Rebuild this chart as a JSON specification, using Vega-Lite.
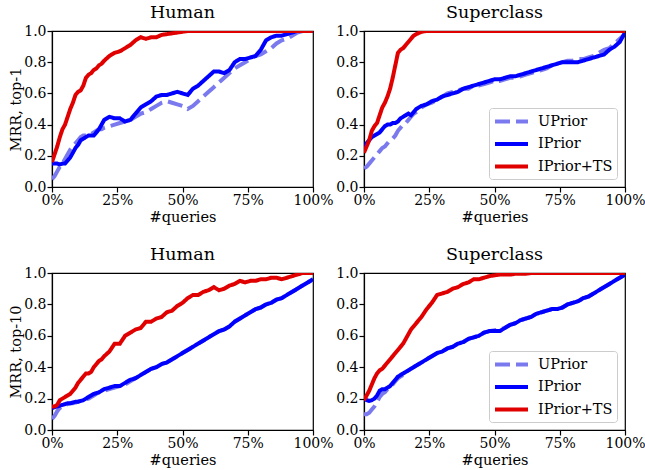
{
  "$schema": "https://vega.github.io/schema/vega-lite/v6.json",
  "padding": {"left": 8, "top": 2, "right": 1, "bottom": 2},
  "background": "white",
  "datasets": {
    "h1": [
      {"x":0,"UPrior":0.05,"IPrior":0.15,"IPrior+TS":0.16},
      {"x":1,"UPrior":0.07,"IPrior":0.15,"IPrior+TS":0.21},
      {"x":2,"UPrior":0.10,"IPrior":0.15,"IPrior+TS":0.26},
      {"x":3,"UPrior":0.13,"IPrior":0.145,"IPrior+TS":0.32},
      {"x":4,"UPrior":0.15,"IPrior":0.15,"IPrior+TS":0.37},
      {"x":5,"UPrior":0.18,"IPrior":0.15,"IPrior+TS":0.40},
      {"x":6,"UPrior":0.21,"IPrior":0.17,"IPrior+TS":0.45},
      {"x":7,"UPrior":0.24,"IPrior":0.19,"IPrior+TS":0.50},
      {"x":8,"UPrior":0.26,"IPrior":0.22,"IPrior+TS":0.54},
      {"x":9,"UPrior":0.28,"IPrior":0.25,"IPrior+TS":0.59},
      {"x":10,"UPrior":0.30,"IPrior":0.27,"IPrior+TS":0.61},
      {"x":11,"UPrior":0.32,"IPrior":0.30,"IPrior+TS":0.62},
      {"x":12,"UPrior":0.33,"IPrior":0.31,"IPrior+TS":0.65},
      {"x":13,"UPrior":0.33,"IPrior":0.32,"IPrior+TS":0.70},
      {"x":14,"UPrior":0.34,"IPrior":0.33,"IPrior+TS":0.72},
      {"x":15,"UPrior":0.34,"IPrior":0.33,"IPrior+TS":0.73},
      {"x":16,"UPrior":0.35,"IPrior":0.33,"IPrior+TS":0.75},
      {"x":17,"UPrior":0.36,"IPrior":0.35,"IPrior+TS":0.76},
      {"x":18,"UPrior":0.37,"IPrior":0.37,"IPrior+TS":0.78},
      {"x":19,"UPrior":0.37,"IPrior":0.40,"IPrior+TS":0.79},
      {"x":20,"UPrior":0.38,"IPrior":0.43,"IPrior+TS":0.81},
      {"x":22,"UPrior":0.39,"IPrior":0.45,"IPrior+TS":0.84},
      {"x":24,"UPrior":0.40,"IPrior":0.44,"IPrior+TS":0.86},
      {"x":26,"UPrior":0.41,"IPrior":0.44,"IPrior+TS":0.87},
      {"x":28,"UPrior":0.42,"IPrior":0.42,"IPrior+TS":0.89},
      {"x":30,"UPrior":0.43,"IPrior":0.43,"IPrior+TS":0.91},
      {"x":32,"UPrior":0.45,"IPrior":0.47,"IPrior+TS":0.94},
      {"x":34,"UPrior":0.47,"IPrior":0.51,"IPrior+TS":0.96},
      {"x":36,"UPrior":0.48,"IPrior":0.53,"IPrior+TS":0.95},
      {"x":38,"UPrior":0.50,"IPrior":0.55,"IPrior+TS":0.96},
      {"x":40,"UPrior":0.52,"IPrior":0.58,"IPrior+TS":0.96},
      {"x":42,"UPrior":0.54,"IPrior":0.59,"IPrior+TS":0.975},
      {"x":44,"UPrior":0.55,"IPrior":0.59,"IPrior+TS":0.98},
      {"x":46,"UPrior":0.54,"IPrior":0.60,"IPrior+TS":0.985},
      {"x":48,"UPrior":0.53,"IPrior":0.61,"IPrior+TS":0.99},
      {"x":50,"UPrior":0.52,"IPrior":0.60,"IPrior+TS":0.995},
      {"x":52,"UPrior":0.50,"IPrior":0.59,"IPrior+TS":1.0},
      {"x":54,"UPrior":0.52,"IPrior":0.63,"IPrior+TS":1.0},
      {"x":56,"UPrior":0.55,"IPrior":0.65,"IPrior+TS":1.0},
      {"x":58,"UPrior":0.58,"IPrior":0.68,"IPrior+TS":1.0},
      {"x":60,"UPrior":0.61,"IPrior":0.71,"IPrior+TS":1.0},
      {"x":62,"UPrior":0.64,"IPrior":0.74,"IPrior+TS":1.0},
      {"x":64,"UPrior":0.67,"IPrior":0.74,"IPrior+TS":1.0},
      {"x":66,"UPrior":0.70,"IPrior":0.73,"IPrior+TS":1.0},
      {"x":68,"UPrior":0.73,"IPrior":0.75,"IPrior+TS":1.0},
      {"x":70,"UPrior":0.76,"IPrior":0.80,"IPrior+TS":1.0},
      {"x":72,"UPrior":0.78,"IPrior":0.82,"IPrior+TS":1.0},
      {"x":74,"UPrior":0.80,"IPrior":0.82,"IPrior+TS":1.0},
      {"x":76,"UPrior":0.82,"IPrior":0.83,"IPrior+TS":1.0},
      {"x":78,"UPrior":0.84,"IPrior":0.84,"IPrior+TS":1.0},
      {"x":80,"UPrior":0.85,"IPrior":0.88,"IPrior+TS":1.0},
      {"x":82,"UPrior":0.87,"IPrior":0.94,"IPrior+TS":1.0},
      {"x":84,"UPrior":0.89,"IPrior":0.96,"IPrior+TS":1.0},
      {"x":86,"UPrior":0.92,"IPrior":0.97,"IPrior+TS":1.0},
      {"x":88,"UPrior":0.94,"IPrior":0.97,"IPrior+TS":1.0},
      {"x":90,"UPrior":0.95,"IPrior":0.98,"IPrior+TS":1.0},
      {"x":92,"UPrior":0.97,"IPrior":0.99,"IPrior+TS":1.0},
      {"x":94,"UPrior":0.99,"IPrior":1.0,"IPrior+TS":1.0},
      {"x":96,"UPrior":1.0,"IPrior":1.0,"IPrior+TS":1.0},
      {"x":98,"UPrior":1.0,"IPrior":1.0,"IPrior+TS":1.0},
      {"x":100,"UPrior":1.0,"IPrior":1.0,"IPrior+TS":1.0}
    ],
    "s1": [
      {"x":0,"UPrior":0.12,"IPrior":0.24,"IPrior+TS":0.22},
      {"x":1,"UPrior":0.13,"IPrior":0.28,"IPrior+TS":0.26},
      {"x":2,"UPrior":0.15,"IPrior":0.30,"IPrior+TS":0.30},
      {"x":3,"UPrior":0.17,"IPrior":0.32,"IPrior+TS":0.36},
      {"x":4,"UPrior":0.19,"IPrior":0.33,"IPrior+TS":0.39},
      {"x":5,"UPrior":0.21,"IPrior":0.34,"IPrior+TS":0.41},
      {"x":6,"UPrior":0.23,"IPrior":0.35,"IPrior+TS":0.46},
      {"x":7,"UPrior":0.25,"IPrior":0.37,"IPrior+TS":0.51},
      {"x":8,"UPrior":0.26,"IPrior":0.39,"IPrior+TS":0.54},
      {"x":9,"UPrior":0.28,"IPrior":0.40,"IPrior+TS":0.58},
      {"x":10,"UPrior":0.30,"IPrior":0.40,"IPrior+TS":0.63},
      {"x":11,"UPrior":0.31,"IPrior":0.41,"IPrior+TS":0.70},
      {"x":12,"UPrior":0.33,"IPrior":0.41,"IPrior+TS":0.78},
      {"x":13,"UPrior":0.36,"IPrior":0.42,"IPrior+TS":0.86},
      {"x":14,"UPrior":0.38,"IPrior":0.44,"IPrior+TS":0.88},
      {"x":15,"UPrior":0.40,"IPrior":0.45,"IPrior+TS":0.89},
      {"x":16,"UPrior":0.41,"IPrior":0.46,"IPrior+TS":0.91},
      {"x":17,"UPrior":0.43,"IPrior":0.47,"IPrior+TS":0.93},
      {"x":18,"UPrior":0.45,"IPrior":0.46,"IPrior+TS":0.95},
      {"x":19,"UPrior":0.47,"IPrior":0.48,"IPrior+TS":0.97},
      {"x":20,"UPrior":0.48,"IPrior":0.50,"IPrior+TS":0.98},
      {"x":22,"UPrior":0.51,"IPrior":0.52,"IPrior+TS":0.995},
      {"x":24,"UPrior":0.53,"IPrior":0.53,"IPrior+TS":1.0},
      {"x":26,"UPrior":0.54,"IPrior":0.55,"IPrior+TS":1.0},
      {"x":28,"UPrior":0.56,"IPrior":0.56,"IPrior+TS":1.0},
      {"x":30,"UPrior":0.58,"IPrior":0.58,"IPrior+TS":1.0},
      {"x":32,"UPrior":0.60,"IPrior":0.59,"IPrior+TS":1.0},
      {"x":34,"UPrior":0.61,"IPrior":0.60,"IPrior+TS":1.0},
      {"x":36,"UPrior":0.62,"IPrior":0.61,"IPrior+TS":1.0},
      {"x":38,"UPrior":0.63,"IPrior":0.63,"IPrior+TS":1.0},
      {"x":40,"UPrior":0.63,"IPrior":0.64,"IPrior+TS":1.0},
      {"x":42,"UPrior":0.65,"IPrior":0.65,"IPrior+TS":1.0},
      {"x":44,"UPrior":0.65,"IPrior":0.66,"IPrior+TS":1.0},
      {"x":46,"UPrior":0.66,"IPrior":0.67,"IPrior+TS":1.0},
      {"x":48,"UPrior":0.67,"IPrior":0.68,"IPrior+TS":1.0},
      {"x":50,"UPrior":0.68,"IPrior":0.69,"IPrior+TS":1.0},
      {"x":52,"UPrior":0.68,"IPrior":0.69,"IPrior+TS":1.0},
      {"x":54,"UPrior":0.69,"IPrior":0.70,"IPrior+TS":1.0},
      {"x":56,"UPrior":0.70,"IPrior":0.71,"IPrior+TS":1.0},
      {"x":58,"UPrior":0.70,"IPrior":0.71,"IPrior+TS":1.0},
      {"x":60,"UPrior":0.71,"IPrior":0.72,"IPrior+TS":1.0},
      {"x":62,"UPrior":0.72,"IPrior":0.73,"IPrior+TS":1.0},
      {"x":64,"UPrior":0.73,"IPrior":0.74,"IPrior+TS":1.0},
      {"x":66,"UPrior":0.74,"IPrior":0.75,"IPrior+TS":1.0},
      {"x":68,"UPrior":0.75,"IPrior":0.76,"IPrior+TS":1.0},
      {"x":70,"UPrior":0.76,"IPrior":0.77,"IPrior+TS":1.0},
      {"x":72,"UPrior":0.78,"IPrior":0.78,"IPrior+TS":1.0},
      {"x":74,"UPrior":0.79,"IPrior":0.79,"IPrior+TS":1.0},
      {"x":76,"UPrior":0.80,"IPrior":0.80,"IPrior+TS":1.0},
      {"x":78,"UPrior":0.81,"IPrior":0.80,"IPrior+TS":1.0},
      {"x":80,"UPrior":0.81,"IPrior":0.80,"IPrior+TS":1.0},
      {"x":82,"UPrior":0.82,"IPrior":0.80,"IPrior+TS":1.0},
      {"x":84,"UPrior":0.82,"IPrior":0.81,"IPrior+TS":1.0},
      {"x":86,"UPrior":0.83,"IPrior":0.82,"IPrior+TS":1.0},
      {"x":88,"UPrior":0.84,"IPrior":0.83,"IPrior+TS":1.0},
      {"x":90,"UPrior":0.86,"IPrior":0.84,"IPrior+TS":1.0},
      {"x":92,"UPrior":0.88,"IPrior":0.85,"IPrior+TS":1.0},
      {"x":94,"UPrior":0.89,"IPrior":0.88,"IPrior+TS":1.0},
      {"x":96,"UPrior":0.92,"IPrior":0.90,"IPrior+TS":1.0},
      {"x":98,"UPrior":0.95,"IPrior":0.93,"IPrior+TS":1.0},
      {"x":100,"UPrior":0.98,"IPrior":0.99,"IPrior+TS":1.0}
    ],
    "h10": [
      {"x":0,"UPrior":0.07,"IPrior":0.14,"IPrior+TS":0.15},
      {"x":1,"UPrior":0.09,"IPrior":0.145,"IPrior+TS":0.15},
      {"x":2,"UPrior":0.12,"IPrior":0.15,"IPrior+TS":0.16},
      {"x":3,"UPrior":0.14,"IPrior":0.155,"IPrior+TS":0.19},
      {"x":4,"UPrior":0.15,"IPrior":0.16,"IPrior+TS":0.20},
      {"x":5,"UPrior":0.16,"IPrior":0.165,"IPrior+TS":0.21},
      {"x":6,"UPrior":0.165,"IPrior":0.17,"IPrior+TS":0.22},
      {"x":7,"UPrior":0.17,"IPrior":0.17,"IPrior+TS":0.23},
      {"x":8,"UPrior":0.17,"IPrior":0.175,"IPrior+TS":0.25},
      {"x":9,"UPrior":0.175,"IPrior":0.18,"IPrior+TS":0.27},
      {"x":10,"UPrior":0.18,"IPrior":0.18,"IPrior+TS":0.30},
      {"x":11,"UPrior":0.185,"IPrior":0.185,"IPrior+TS":0.32},
      {"x":12,"UPrior":0.19,"IPrior":0.19,"IPrior+TS":0.34},
      {"x":13,"UPrior":0.195,"IPrior":0.20,"IPrior+TS":0.36},
      {"x":14,"UPrior":0.20,"IPrior":0.21,"IPrior+TS":0.36},
      {"x":15,"UPrior":0.21,"IPrior":0.22,"IPrior+TS":0.37},
      {"x":16,"UPrior":0.22,"IPrior":0.23,"IPrior+TS":0.40},
      {"x":17,"UPrior":0.23,"IPrior":0.235,"IPrior+TS":0.42},
      {"x":18,"UPrior":0.24,"IPrior":0.24,"IPrior+TS":0.44},
      {"x":19,"UPrior":0.245,"IPrior":0.25,"IPrior+TS":0.45},
      {"x":20,"UPrior":0.25,"IPrior":0.26,"IPrior+TS":0.47},
      {"x":22,"UPrior":0.26,"IPrior":0.27,"IPrior+TS":0.50},
      {"x":24,"UPrior":0.27,"IPrior":0.28,"IPrior+TS":0.55},
      {"x":26,"UPrior":0.28,"IPrior":0.28,"IPrior+TS":0.55},
      {"x":28,"UPrior":0.29,"IPrior":0.30,"IPrior+TS":0.60},
      {"x":30,"UPrior":0.31,"IPrior":0.32,"IPrior+TS":0.62},
      {"x":32,"UPrior":0.33,"IPrior":0.33,"IPrior+TS":0.64},
      {"x":34,"UPrior":0.35,"IPrior":0.35,"IPrior+TS":0.65},
      {"x":36,"UPrior":0.37,"IPrior":0.37,"IPrior+TS":0.69},
      {"x":38,"UPrior":0.39,"IPrior":0.39,"IPrior+TS":0.69},
      {"x":40,"UPrior":0.40,"IPrior":0.40,"IPrior+TS":0.71},
      {"x":42,"UPrior":0.42,"IPrior":0.42,"IPrior+TS":0.72},
      {"x":44,"UPrior":0.43,"IPrior":0.43,"IPrior+TS":0.75},
      {"x":46,"UPrior":0.45,"IPrior":0.45,"IPrior+TS":0.76},
      {"x":48,"UPrior":0.47,"IPrior":0.47,"IPrior+TS":0.79},
      {"x":50,"UPrior":0.49,"IPrior":0.49,"IPrior+TS":0.81},
      {"x":52,"UPrior":0.51,"IPrior":0.51,"IPrior+TS":0.84},
      {"x":54,"UPrior":0.53,"IPrior":0.53,"IPrior+TS":0.86},
      {"x":56,"UPrior":0.55,"IPrior":0.55,"IPrior+TS":0.86},
      {"x":58,"UPrior":0.57,"IPrior":0.57,"IPrior+TS":0.88},
      {"x":60,"UPrior":0.59,"IPrior":0.59,"IPrior+TS":0.89},
      {"x":62,"UPrior":0.61,"IPrior":0.61,"IPrior+TS":0.91},
      {"x":64,"UPrior":0.63,"IPrior":0.63,"IPrior+TS":0.89},
      {"x":66,"UPrior":0.64,"IPrior":0.64,"IPrior+TS":0.90},
      {"x":68,"UPrior":0.66,"IPrior":0.66,"IPrior+TS":0.92},
      {"x":70,"UPrior":0.69,"IPrior":0.69,"IPrior+TS":0.93},
      {"x":72,"UPrior":0.71,"IPrior":0.71,"IPrior+TS":0.95},
      {"x":74,"UPrior":0.73,"IPrior":0.73,"IPrior+TS":0.94},
      {"x":76,"UPrior":0.75,"IPrior":0.75,"IPrior+TS":0.95},
      {"x":78,"UPrior":0.77,"IPrior":0.77,"IPrior+TS":0.95},
      {"x":80,"UPrior":0.78,"IPrior":0.78,"IPrior+TS":0.96},
      {"x":82,"UPrior":0.80,"IPrior":0.80,"IPrior+TS":0.96},
      {"x":84,"UPrior":0.81,"IPrior":0.81,"IPrior+TS":0.97},
      {"x":86,"UPrior":0.83,"IPrior":0.83,"IPrior+TS":0.97},
      {"x":88,"UPrior":0.84,"IPrior":0.84,"IPrior+TS":0.96},
      {"x":90,"UPrior":0.86,"IPrior":0.86,"IPrior+TS":0.97},
      {"x":92,"UPrior":0.88,"IPrior":0.88,"IPrior+TS":0.98},
      {"x":94,"UPrior":0.90,"IPrior":0.90,"IPrior+TS":0.99},
      {"x":96,"UPrior":0.92,"IPrior":0.92,"IPrior+TS":1.0},
      {"x":98,"UPrior":0.94,"IPrior":0.94,"IPrior+TS":1.0},
      {"x":100,"UPrior":0.96,"IPrior":0.96,"IPrior+TS":1.0}
    ],
    "s10": [
      {"x":0,"UPrior":0.10,"IPrior":0.20,"IPrior+TS":0.19},
      {"x":1,"UPrior":0.10,"IPrior":0.19,"IPrior+TS":0.22},
      {"x":2,"UPrior":0.11,"IPrior":0.185,"IPrior+TS":0.25},
      {"x":3,"UPrior":0.13,"IPrior":0.19,"IPrior+TS":0.29},
      {"x":4,"UPrior":0.15,"IPrior":0.20,"IPrior+TS":0.33},
      {"x":5,"UPrior":0.18,"IPrior":0.22,"IPrior+TS":0.36},
      {"x":6,"UPrior":0.21,"IPrior":0.25,"IPrior+TS":0.38},
      {"x":7,"UPrior":0.23,"IPrior":0.26,"IPrior+TS":0.39},
      {"x":8,"UPrior":0.24,"IPrior":0.26,"IPrior+TS":0.41},
      {"x":9,"UPrior":0.26,"IPrior":0.27,"IPrior+TS":0.43},
      {"x":10,"UPrior":0.27,"IPrior":0.28,"IPrior+TS":0.45},
      {"x":11,"UPrior":0.29,"IPrior":0.30,"IPrior+TS":0.47},
      {"x":12,"UPrior":0.31,"IPrior":0.32,"IPrior+TS":0.49},
      {"x":13,"UPrior":0.33,"IPrior":0.34,"IPrior+TS":0.51},
      {"x":14,"UPrior":0.34,"IPrior":0.35,"IPrior+TS":0.53},
      {"x":15,"UPrior":0.35,"IPrior":0.36,"IPrior+TS":0.55},
      {"x":16,"UPrior":0.37,"IPrior":0.37,"IPrior+TS":0.58},
      {"x":17,"UPrior":0.38,"IPrior":0.38,"IPrior+TS":0.61},
      {"x":18,"UPrior":0.39,"IPrior":0.39,"IPrior+TS":0.64},
      {"x":19,"UPrior":0.40,"IPrior":0.40,"IPrior+TS":0.66},
      {"x":20,"UPrior":0.41,"IPrior":0.41,"IPrior+TS":0.68},
      {"x":22,"UPrior":0.43,"IPrior":0.43,"IPrior+TS":0.72},
      {"x":24,"UPrior":0.45,"IPrior":0.45,"IPrior+TS":0.77},
      {"x":26,"UPrior":0.47,"IPrior":0.47,"IPrior+TS":0.81},
      {"x":28,"UPrior":0.49,"IPrior":0.49,"IPrior+TS":0.86},
      {"x":30,"UPrior":0.50,"IPrior":0.50,"IPrior+TS":0.87},
      {"x":32,"UPrior":0.52,"IPrior":0.52,"IPrior+TS":0.88},
      {"x":34,"UPrior":0.53,"IPrior":0.53,"IPrior+TS":0.90},
      {"x":36,"UPrior":0.55,"IPrior":0.55,"IPrior+TS":0.91},
      {"x":38,"UPrior":0.56,"IPrior":0.56,"IPrior+TS":0.93},
      {"x":40,"UPrior":0.58,"IPrior":0.58,"IPrior+TS":0.94},
      {"x":42,"UPrior":0.59,"IPrior":0.59,"IPrior+TS":0.96},
      {"x":44,"UPrior":0.60,"IPrior":0.60,"IPrior+TS":0.96},
      {"x":46,"UPrior":0.62,"IPrior":0.62,"IPrior+TS":0.97},
      {"x":48,"UPrior":0.63,"IPrior":0.63,"IPrior+TS":0.98},
      {"x":50,"UPrior":0.635,"IPrior":0.63,"IPrior+TS":0.985},
      {"x":52,"UPrior":0.64,"IPrior":0.63,"IPrior+TS":0.99},
      {"x":54,"UPrior":0.65,"IPrior":0.65,"IPrior+TS":0.99},
      {"x":56,"UPrior":0.67,"IPrior":0.67,"IPrior+TS":0.99},
      {"x":58,"UPrior":0.68,"IPrior":0.68,"IPrior+TS":0.995},
      {"x":60,"UPrior":0.70,"IPrior":0.70,"IPrior+TS":0.995},
      {"x":62,"UPrior":0.71,"IPrior":0.71,"IPrior+TS":0.995},
      {"x":64,"UPrior":0.72,"IPrior":0.72,"IPrior+TS":1.0},
      {"x":66,"UPrior":0.74,"IPrior":0.74,"IPrior+TS":1.0},
      {"x":68,"UPrior":0.75,"IPrior":0.75,"IPrior+TS":1.0},
      {"x":70,"UPrior":0.76,"IPrior":0.76,"IPrior+TS":1.0},
      {"x":72,"UPrior":0.77,"IPrior":0.77,"IPrior+TS":1.0},
      {"x":74,"UPrior":0.77,"IPrior":0.77,"IPrior+TS":1.0},
      {"x":76,"UPrior":0.78,"IPrior":0.78,"IPrior+TS":1.0},
      {"x":78,"UPrior":0.80,"IPrior":0.80,"IPrior+TS":1.0},
      {"x":80,"UPrior":0.81,"IPrior":0.81,"IPrior+TS":1.0},
      {"x":82,"UPrior":0.82,"IPrior":0.82,"IPrior+TS":1.0},
      {"x":84,"UPrior":0.84,"IPrior":0.84,"IPrior+TS":1.0},
      {"x":86,"UPrior":0.85,"IPrior":0.85,"IPrior+TS":1.0},
      {"x":88,"UPrior":0.87,"IPrior":0.87,"IPrior+TS":1.0},
      {"x":90,"UPrior":0.89,"IPrior":0.89,"IPrior+TS":1.0},
      {"x":92,"UPrior":0.91,"IPrior":0.91,"IPrior+TS":1.0},
      {"x":94,"UPrior":0.93,"IPrior":0.93,"IPrior+TS":1.0},
      {"x":96,"UPrior":0.95,"IPrior":0.95,"IPrior+TS":1.0},
      {"x":98,"UPrior":0.97,"IPrior":0.97,"IPrior+TS":1.0},
      {"x":100,"UPrior":0.99,"IPrior":0.99,"IPrior+TS":1.0}
    ]
  },
  "columns": 2,
  "bounds": "flush",
  "spacing": {"row": 86, "column": 51},
  "resolve": {"legend": {"color": "independent", "strokeDash": "independent"}},
  "concat": [
    {
      "data": {"name": "h1"},
      "title": "Human",
      "width": 261, "height": 156,
      "transform": [{"fold": ["UPrior", "IPrior", "IPrior+TS"], "as": ["method", "mrr"]}],
      "mark": {"type": "line", "strokeWidth": 4, "clip": true},
      "encoding": {
        "x": {"field": "x", "type": "quantitative", "scale": {"domain": [0, 100], "nice": false}, "axis": {"values": [0, 25, 50, 75, 100], "labelExpr": "datum.value + '%'", "title": "#queries"}},
        "y": {"field": "mrr", "type": "quantitative", "scale": {"domain": [0, 1], "nice": false}, "axis": {"values": [0, 0.2, 0.4, 0.6, 0.8, 1.0], "format": ".1f", "title": "MRR, top-1"}},
        "color": {"field": "method", "type": "nominal", "scale": {"domain": ["UPrior", "IPrior", "IPrior+TS"], "range": ["#7a7aee", "#0000ff", "#e00000"]}, "legend": null},
        "strokeDash": {"field": "method", "type": "nominal", "scale": {"domain": ["UPrior", "IPrior", "IPrior+TS"], "range": [[15, 6], [1, 0], [1, 0]]}, "legend": null}
      }
    },
    {
      "data": {"name": "s1"},
      "title": "Superclass",
      "width": 261, "height": 156,
      "transform": [{"fold": ["UPrior", "IPrior", "IPrior+TS"], "as": ["method", "mrr"]}],
      "mark": {"type": "line", "strokeWidth": 4, "clip": true},
      "encoding": {
        "x": {"field": "x", "type": "quantitative", "scale": {"domain": [0, 100], "nice": false}, "axis": {"values": [0, 25, 50, 75, 100], "labelExpr": "datum.value + '%'", "title": "#queries"}},
        "y": {"field": "mrr", "type": "quantitative", "scale": {"domain": [0, 1], "nice": false}, "axis": {"values": [0, 0.2, 0.4, 0.6, 0.8, 1.0], "format": ".1f", "title": null}},
        "color": {"field": "method", "type": "nominal", "scale": {"domain": ["UPrior", "IPrior", "IPrior+TS"], "range": ["#7a7aee", "#0000ff", "#e00000"]}, "legend": {"title": null}},
        "strokeDash": {"field": "method", "type": "nominal", "scale": {"domain": ["UPrior", "IPrior", "IPrior+TS"], "range": [[15, 6], [1, 0], [1, 0]]}, "legend": {"title": null}}
      }
    },
    {
      "data": {"name": "h10"},
      "title": "Human",
      "width": 261, "height": 157,
      "transform": [{"fold": ["UPrior", "IPrior", "IPrior+TS"], "as": ["method", "mrr"]}],
      "mark": {"type": "line", "strokeWidth": 4, "clip": true},
      "encoding": {
        "x": {"field": "x", "type": "quantitative", "scale": {"domain": [0, 100], "nice": false}, "axis": {"values": [0, 25, 50, 75, 100], "labelExpr": "datum.value + '%'", "title": "#queries"}},
        "y": {"field": "mrr", "type": "quantitative", "scale": {"domain": [0, 1], "nice": false}, "axis": {"values": [0, 0.2, 0.4, 0.6, 0.8, 1.0], "format": ".1f", "title": "MRR, top-10"}},
        "color": {"field": "method", "type": "nominal", "scale": {"domain": ["UPrior", "IPrior", "IPrior+TS"], "range": ["#7a7aee", "#0000ff", "#e00000"]}, "legend": null},
        "strokeDash": {"field": "method", "type": "nominal", "scale": {"domain": ["UPrior", "IPrior", "IPrior+TS"], "range": [[15, 6], [1, 0], [1, 0]]}, "legend": null}
      }
    },
    {
      "data": {"name": "s10"},
      "title": "Superclass",
      "width": 261, "height": 157,
      "transform": [{"fold": ["UPrior", "IPrior", "IPrior+TS"], "as": ["method", "mrr"]}],
      "mark": {"type": "line", "strokeWidth": 4, "clip": true},
      "encoding": {
        "x": {"field": "x", "type": "quantitative", "scale": {"domain": [0, 100], "nice": false}, "axis": {"values": [0, 25, 50, 75, 100], "labelExpr": "datum.value + '%'", "title": "#queries"}},
        "y": {"field": "mrr", "type": "quantitative", "scale": {"domain": [0, 1], "nice": false}, "axis": {"values": [0, 0.2, 0.4, 0.6, 0.8, 1.0], "format": ".1f", "title": null}},
        "color": {"field": "method", "type": "nominal", "scale": {"domain": ["UPrior", "IPrior", "IPrior+TS"], "range": ["#7a7aee", "#0000ff", "#e00000"]}, "legend": {"title": null}},
        "strokeDash": {"field": "method", "type": "nominal", "scale": {"domain": ["UPrior", "IPrior", "IPrior+TS"], "range": [[15, 6], [1, 0], [1, 0]]}, "legend": {"title": null}}
      }
    }
  ],
  "config": {
    "font": "DejaVu Serif",
    "view": {"stroke": "black", "strokeWidth": 1.2},
    "axis": {
      "grid": false,
      "domainColor": "black", "domainWidth": 1.2,
      "tickColor": "black", "tickSize": 5, "tickWidth": 1.2,
      "labelFont": "DejaVu Serif", "labelFontSize": 14, "labelColor": "black", "labelPadding": 1,
      "titleFont": "DejaVu Serif", "titleFontSize": 14.5, "titleColor": "black", "titleFontWeight": "normal", "titlePadding": 3,
      "labelOverlap": false, "labelFlush": false, "labelBound": false
    },
    "axisY": {"titlePadding": 0},
    "title": {"font": "DejaVu Serif", "fontSize": 17.5, "fontWeight": "normal", "color": "black", "offset": 3, "anchor": "middle"},
    "legend": {
      "orient": "bottom-right", "offset": 8,
      "strokeColor": "#cccccc", "fillColor": "white", "cornerRadius": 3,
      "padding": 4,
      "labelFont": "DejaVu Serif", "labelFontSize": 14.5, "labelColor": "black", "labelOffset": 26,
      "symbolType": "M-1,0H3.4", "symbolSize": 225, "symbolStrokeWidth": 4,
      "rowPadding": 4.5
    }
  }
}
